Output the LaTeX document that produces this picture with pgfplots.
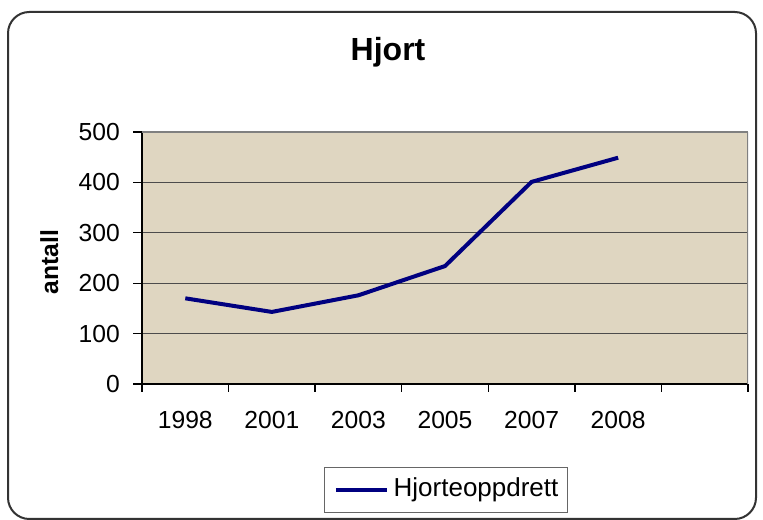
\documentclass[border=0pt]{standalone}
\usepackage{fontspec}
\setmainfont{Liberation Sans}
\usepackage{pgfplots}
\pgfplotsset{compat=1.18}
\definecolor{plotbg}{RGB}{223,214,193}
\definecolor{navyline}{RGB}{0,0,128}
\begin{document}
\begin{tikzpicture}
\useasboundingbox (0,0) rectangle (572.25pt,390pt);
\draw[rounded corners=16pt, line width=1.5pt, black!80] (6pt,0.75pt) rectangle (567pt,381pt);
\begin{axis}[
  at={(106.5pt,102pt)}, anchor=south west,
  scale only axis, width=454.5pt, height=189pt,
  xmin=-0.5, xmax=6.5, ymin=0, ymax=500,
  axis x line*=bottom, axis y line*=left,
  axis line style={black, line width=1pt},
  axis background/.style={fill=plotbg},
  /pgf/number format/assume math mode=true,
  xtick={0,1,2,3,4,5},
  xticklabels={1998,2001,2003,2005,2007,2008},
  minor xtick={-0.5,0.5,1.5,2.5,3.5,4.5,5.5,6.5},
  major x tick style={draw=none},
  minor x tick style={black, line width=1pt},
  minor tick length=6pt,
  ytick={0,100,200,300,400,500},
  major y tick style={black, line width=1pt},
  major tick length=6.5pt,
  tick align=outside,
  ymajorgrids,
  major grid style={black!70, line width=1pt},
  tick label style={font=\fontsize{18.5pt}{20pt}\selectfont},
  xticklabel style={anchor=north, inner sep=0pt, yshift=-13.8pt},
  yticklabel style={anchor=east, inner sep=0pt, xshift=-10pt},
  every axis title shift=0pt,
  title={Hjort},
  title style={at={(axis description cs:0.406,1.3175)}, anchor=center, font=\fontsize{24pt}{28pt}\selectfont\bfseries},
  ylabel={antall},
  ylabel style={at={(axis description cs:-0.153,0.484)}, anchor=center, font=\fontsize{18.5pt}{20pt}\selectfont\bfseries},
  legend style={at={(axis description cs:0.502,-0.4206)}, anchor=center, draw=black!60, line width=0.8pt, inner xsep=7pt, inner ysep=7.5pt,
    nodes={inner sep=0pt, text height=14pt, text depth=4.5pt},
    font=\fontsize{19.5pt}{22pt}\selectfont},
  legend image code/.code={\draw[#1] (0pt,0pt) -- (38pt,0pt);},
  /tikz/every even column/.append style={column sep=0pt},
  legend cell align=left,
]
\addplot[navyline, line width=3pt] coordinates {(0,170) (1,143) (2,176) (3,234) (4,401) (5,449)};
\addlegendentry{\hspace{3.75pt}Hjorteoppdrett}
\draw[black!50, line width=1.5pt] (rel axis cs:1,0) -- (rel axis cs:1,1);
\draw[black!50, line width=1.5pt] (rel axis cs:0,1) -- (rel axis cs:1,1);
\end{axis}
\end{tikzpicture}
\end{document}
